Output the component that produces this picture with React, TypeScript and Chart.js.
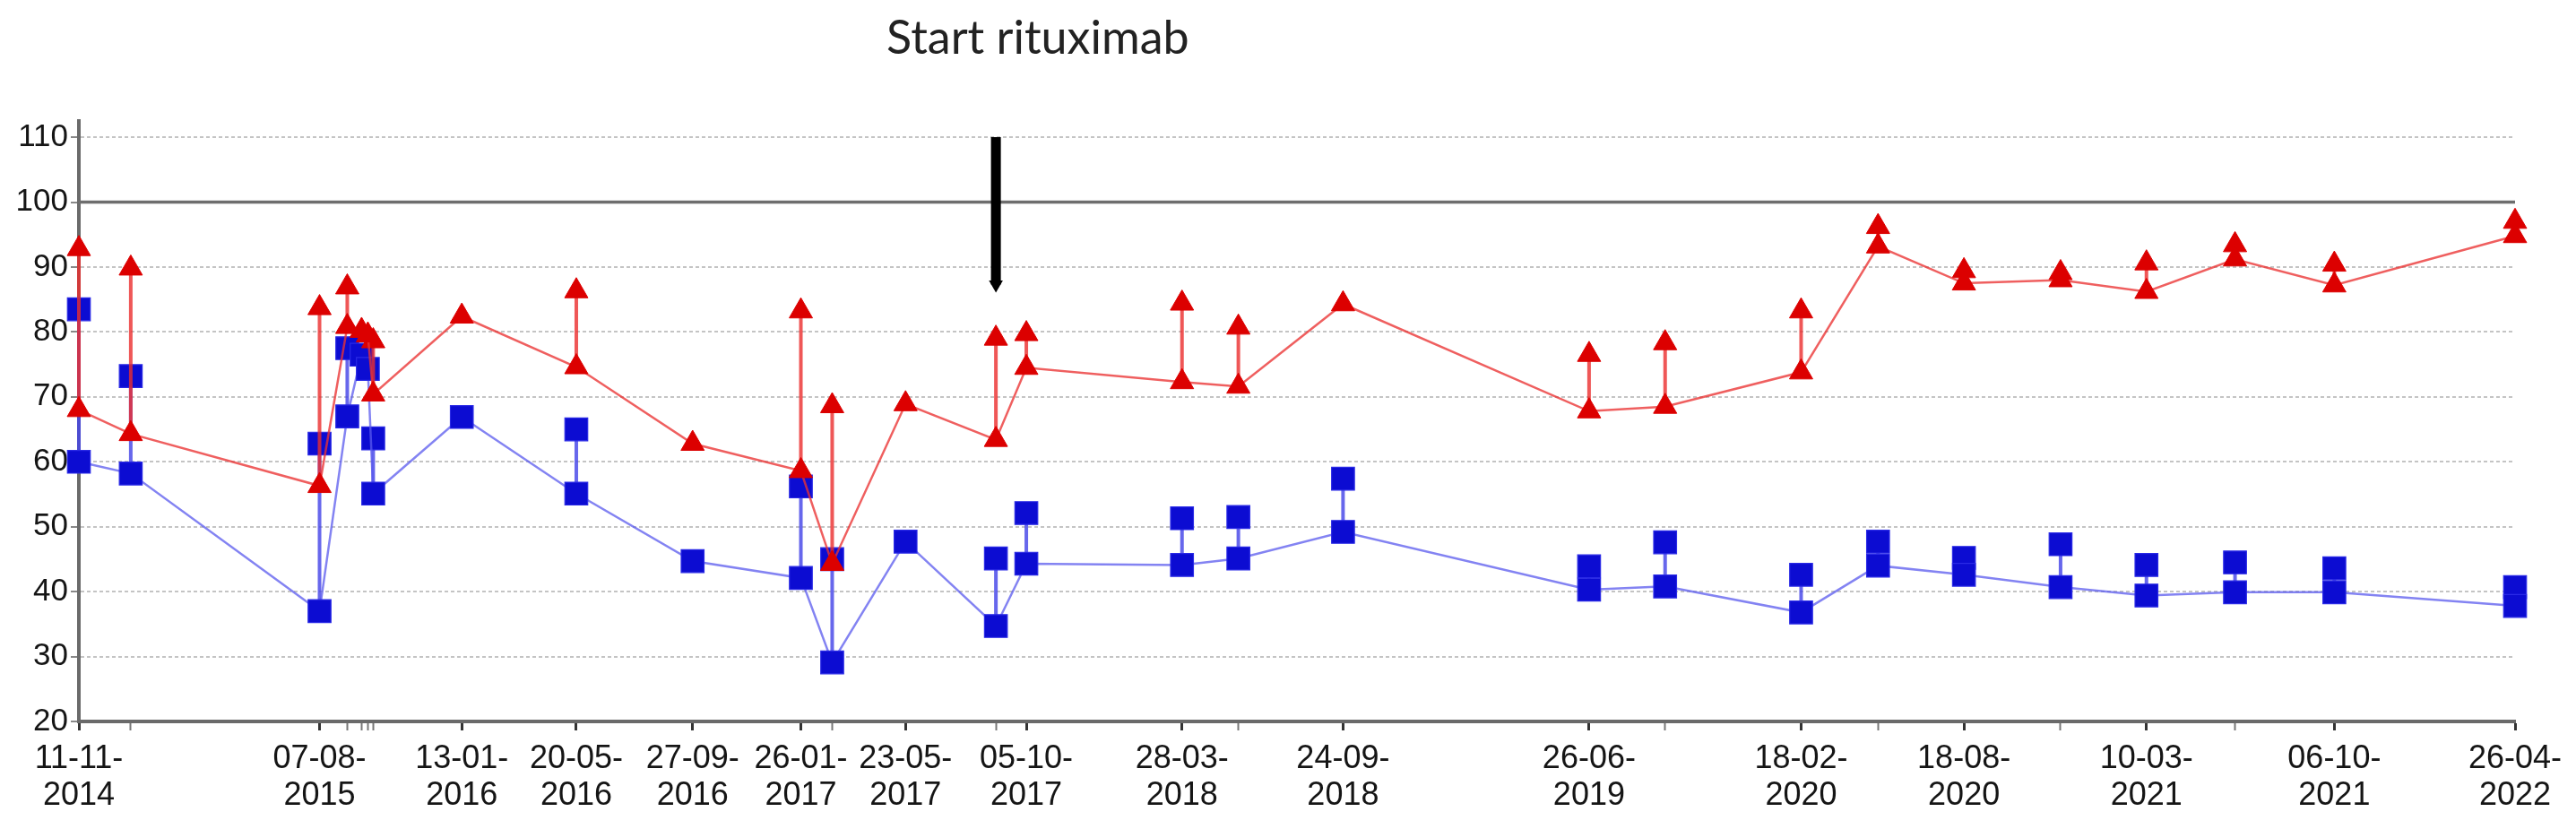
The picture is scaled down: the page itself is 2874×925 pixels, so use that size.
import React, { useEffect, useRef } from 'react';
import { Chart, registerables } from 'chart.js';

Chart.register(...registerables);

// Measurement dates (YYYY-MM-DD)
const dates = [
  '2014-11-11', '2015-01-08', '2015-08-07', '2015-09-07', '2015-09-23', '2015-09-30', '2015-10-06',
  '2016-01-13', '2016-05-20', '2016-09-27', '2017-01-26', '2017-03-02', '2017-05-23', '2017-09-01',
  '2017-10-05', '2018-03-28', '2018-05-30', '2018-09-24', '2019-06-26', '2019-09-19', '2020-02-18',
  '2020-05-14', '2020-08-18', '2020-12-04', '2021-03-10', '2021-06-17', '2021-10-06', '2022-04-26',
];

// Red series (triangles): lower value on the line, upper value connected by a vertical bar
const redLow = [68.0, 64.3, 56.3, 80.8, 80.2, 79.5, 70.4, 82.4, 74.6, 62.8, 58.6, 44.3, 68.9, 63.4,
  74.5, 72.3, 71.6, 84.3, 67.8, 68.5, 73.8, 93.2, 87.5, 88.0, 86.2, 91.2, 87.2, 94.8];
const redHigh = [92.8, 89.8, 83.7, 86.9, null, null, 78.6, null, 86.3, null, 83.2, 68.6, null, 79.0,
  79.7, 84.4, 80.7, null, 76.5, 78.3, 83.2, 96.2, 89.4, 89.1, 90.6, 93.4, 90.4, 97.0];

// Blue series (squares)
const blueLow = [60.0, 58.2, 37.0, 67.0, 76.5, 74.3, 55.1, 66.9, 55.1, 44.7, 42.1, 29.1, 47.7, 34.7,
  44.3, 44.1, 45.1, 49.2, 40.3, 40.8, 36.8, 44.0, 42.6, 40.7, 39.4, 39.9, 39.9, 37.8];
const blueHigh = [83.5, 73.2, 62.8, 77.5, null, null, 63.6, null, 65.0, null, 56.2, 45.0, null, 45.1,
  52.1, 51.3, 51.5, 57.4, 43.9, 47.6, 42.6, 47.7, 45.2, 47.3, 44.1, 44.5, 43.6, 40.7];

// Dates that carry a tick label
const labeledDates = [
  '2014-11-11', '2015-08-07', '2016-01-13', '2016-05-20', '2016-09-27', '2017-01-26', '2017-05-23',
  '2017-10-05', '2018-03-28', '2018-09-24', '2019-06-26', '2020-02-18', '2020-08-18', '2021-03-10',
  '2021-10-06', '2022-04-26',
];

const yTicks = [20, 30, 40, 50, 60, 70, 80, 90, 100, 110];
const referenceLevel = 100;

const annotationText = 'Start rituximab';
const arrowDate = '2017-09-01';
const arrowTop = 110;
const arrowTip = 87.3;

const ORIGIN = Date.UTC(2014, 10, 11);
function dayOf(s: string): number {
  const [y, m, d] = s.split('-').map(Number);
  return Math.round((Date.UTC(y, m - 1, d) - ORIGIN) / 86400000);
}
function labelOf(s: string): string[] {
  const [y, m, d] = s.split('-');
  return [`${d}-${m}-`, y];
}

const AXIS_FONT = '"Liberation Sans", Arial, sans-serif';

export default function App() {
  const ref = useRef<HTMLCanvasElement>(null);

  useEffect(() => {
    if (!ref.current) return;
    const days = dates.map(dayOf);
    const labelMap = new Map<number, string[]>();
    labeledDates.forEach((s) => labelMap.set(dayOf(s), labelOf(s)));
    const xMin = days[0];
    const xMax = days[days.length - 1];

    const pts = (vals: (number | null)[]) => days.map((x, i) => ({ x, y: vals[i] }));
    const hiPts = (vals: (number | null)[]) => pts(vals).filter((p) => p.y !== null);
    const connectors = (lo: number[], hi: (number | null)[]) => {
      const out: { x: number; y: number | null }[] = [];
      days.forEach((x, i) => {
        if (hi[i] !== null) {
          out.push({ x, y: lo[i] }, { x, y: hi[i] }, { x, y: null });
        }
      });
      return out;
    };

    const RED = '#dc0000';
    const BLUE = '#0c0cd2';
    const arrowDay = dayOf(arrowDate);

    const textPlugin = {
      id: 'startText',
      afterDraw(chart: any) {
        const ctx = chart.ctx;
        const xs = chart.scales.x;
        const px = xs.getPixelForValue(arrowDay);
        ctx.save();
        ctx.fillStyle = '#222';
        ctx.font = '52px Lato, "Open Sans", sans-serif';
        ctx.textAlign = 'left';
        ctx.textBaseline = 'alphabetic';
        ctx.fillText(annotationText, px - 122, 60);
        ctx.restore();
      },
    };

    const chart = new Chart(ref.current, {
      type: 'line',
      data: {
        datasets: [
          {
            // arrow
            data: [{ x: arrowDay, y: arrowTop }, { x: arrowDay, y: arrowTip }],
            borderColor: '#000',
            backgroundColor: '#000',
            borderWidth: 11,
            pointRadius: [0, 9],
            pointStyle: 'triangle',
            rotation: 180,
            pointBorderWidth: 0,
            order: 0,
            clip: false,
          } as any,
          {
            data: pts(redLow),
            borderColor: 'rgba(235,50,50,0.78)',
            borderWidth: 2.5,
            pointStyle: 'triangle',
            pointRadius: 15,
            pointBackgroundColor: RED,
            pointBorderColor: RED,
            pointBorderWidth: 1,
            order: 1,
            clip: false,
          } as any,
          {
            data: hiPts(redHigh),
            showLine: false,
            pointStyle: 'triangle',
            pointRadius: 15,
            pointBackgroundColor: RED,
            pointBorderColor: RED,
            pointBorderWidth: 1,
            order: 1,
            clip: false,
          } as any,
          {
            data: connectors(redLow, redHigh),
            borderColor: 'rgba(235,45,45,0.8)',
            borderWidth: 4,
            pointRadius: 0,
            spanGaps: false,
            order: 2,
            clip: false,
          } as any,
          {
            data: pts(blueLow),
            borderColor: 'rgba(90,90,238,0.75)',
            borderWidth: 2.5,
            pointStyle: 'rect',
            pointRadius: 18,
            pointBackgroundColor: BLUE,
            pointBorderColor: '#2a2ae6',
            pointBorderWidth: 1.2,
            order: 3,
            clip: false,
          } as any,
          {
            data: hiPts(blueHigh),
            showLine: false,
            pointStyle: 'rect',
            pointRadius: 18,
            pointBackgroundColor: BLUE,
            pointBorderColor: '#2a2ae6',
            pointBorderWidth: 1.2,
            order: 3,
            clip: false,
          } as any,
          {
            data: connectors(blueLow, blueHigh),
            borderColor: 'rgba(70,70,232,0.82)',
            borderWidth: 4,
            pointRadius: 0,
            spanGaps: false,
            order: 4,
            clip: false,
          } as any,
          {
            data: [{ x: xMin, y: referenceLevel }, { x: xMax, y: referenceLevel }],
            borderColor: '#6e6e6e',
            borderWidth: 3.5,
            pointRadius: 0,
            order: 6,
          } as any,
        ],
      },
      options: {
        responsive: false,
        animation: false,
        devicePixelRatio: 1,
        events: [],
        layout: { padding: { top: 135, right: 68, left: 0, bottom: 0 } },
        plugins: {
          legend: { display: false },
          tooltip: { enabled: false },
          title: { display: false },
        },
        scales: {
          x: {
            type: 'linear',
            min: xMin,
            max: xMax,
            afterBuildTicks: (s: any) => {
              s.ticks = days.map((v) => ({ value: v }));
            },
            afterFit: (s: any) => {
              s.height = 120;
            },
            ticks: {
              autoSkip: false,
              maxRotation: 0,
              minRotation: 0,
              padding: 11,
              color: '#151515',
              font: { family: AXIS_FONT, size: 36, lineHeight: 1.15 },
              callback: (v: any) => labelMap.get(Number(v)) ?? '',
            },
            grid: {
              drawOnChartArea: false,
              drawTicks: true,
              tickLength: 10,
              tickWidth: (c: any) => (c.tick && labelMap.has(c.tick.value) ? 3 : 2),
              tickColor: (c: any) => (c.tick && labelMap.has(c.tick.value) ? '#333' : '#777'),
            },
            border: { display: true, color: '#6a6a6a', width: 4 },
          },
          y: {
            type: 'linear',
            min: 20,
            max: 112.5,
            afterBuildTicks: (s: any) => {
              s.ticks = yTicks.map((v) => ({ value: v }));
            },
            afterFit: (s: any) => {
              s.width = 88;
            },
            ticks: {
              padding: 3,
              color: '#151515',
              font: { family: AXIS_FONT, size: 35 },
            },
            grid: {
              color: '#c4c4c4',
              lineWidth: 2,
              drawTicks: true,
              tickLength: 9,
              tickColor: '#888',
              tickWidth: 2,
            },
            border: { display: true, color: '#6a6a6a', width: 4, dash: [4, 3] },
          },
        },
      } as any,
      plugins: [textPlugin],
    });

    return () => chart.destroy();
  }, []);

  return (
    <div style={{ position: 'fixed', left: 0, top: 0, width: 2874, height: 925, background: '#fff' }}>
      <canvas ref={ref} width={2874} height={925} style={{ display: 'block' }} />
    </div>
  );
}
